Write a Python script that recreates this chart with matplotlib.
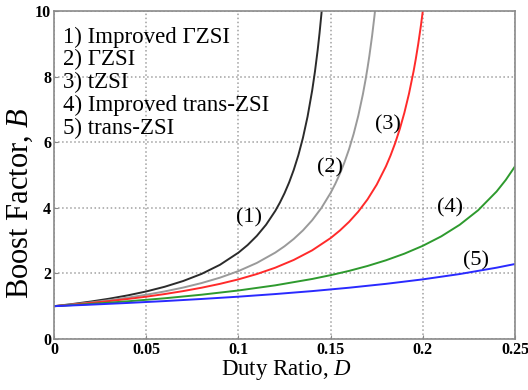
import matplotlib
matplotlib.use("Agg")
import matplotlib.pyplot as plt

serif = "Liberation Serif"
plt.rcParams["mathtext.fontset"] = "custom"
plt.rcParams["mathtext.it"] = serif + ":italic"
plt.rcParams["mathtext.rm"] = serif

# Boost factor B versus duty ratio D for five Z-source topologies
d_imp_gzsi = [0, 0.01, 0.02, 0.03, 0.04, 0.05, 0.06, 0.07, 0.08, 0.09, 0.10, 0.105, 0.11, 0.115,
              0.12, 0.1225, 0.125, 0.1275, 0.13, 0.1325, 0.135, 0.1375, 0.14, 0.1415, 0.143,
              0.144, 0.145, 0.146]
b_imp_gzsi = [1.000, 1.066, 1.142, 1.229, 1.330, 1.449, 1.592, 1.767, 1.984, 2.262, 2.632, 2.865,
              3.145, 3.484, 3.906, 4.158, 4.444, 4.773, 5.155, 5.602, 6.135, 6.780, 7.576, 8.150,
              8.818, 9.328, 9.901, 10.55]

d_gzsi = [0, 0.01, 0.02, 0.03, 0.04, 0.05, 0.06, 0.07, 0.08, 0.09, 0.10, 0.11, 0.12, 0.125,
          0.13, 0.135, 0.14, 0.145, 0.15, 0.1525, 0.155, 0.1575, 0.16, 0.1625, 0.165, 0.1675,
          0.169, 0.17, 0.171, 0.1725, 0.1738, 0.175]
b_gzsi = [1.000, 1.055, 1.115, 1.184, 1.261, 1.349, 1.450, 1.567, 1.705, 1.870, 2.070, 2.319,
          2.634, 2.827, 3.050, 3.311, 3.621, 3.994, 4.454, 4.726, 5.034, 5.384, 5.787, 6.255,
          6.805, 7.461, 7.920, 8.258, 8.626, 9.244, 9.857, 10.50]

d_tzsi = [0, 0.01, 0.02, 0.03, 0.04, 0.05, 0.06, 0.07, 0.08, 0.09, 0.10, 0.11, 0.12, 0.13,
          0.14, 0.15, 0.155, 0.16, 0.165, 0.17, 0.175, 0.18, 0.1825, 0.185, 0.1875, 0.19,
          0.1925, 0.195, 0.1962, 0.1975, 0.199, 0.2, 0.201]
b_tzsi = [1.000, 1.047, 1.099, 1.156, 1.220, 1.290, 1.370, 1.460, 1.563, 1.681, 1.818, 1.980,
          2.174, 2.410, 2.703, 3.077, 3.306, 3.571, 3.883, 4.255, 4.706, 5.263, 5.594, 5.970,
          6.400, 6.897, 7.477, 8.163, 8.540, 8.989, 9.569, 10.0, 10.47]

d_imp_trans = [0, 0.02, 0.04, 0.06, 0.08, 0.10, 0.12, 0.14, 0.15, 0.16, 0.17, 0.18, 0.19,
               0.20, 0.21, 0.22, 0.23, 0.24, 0.245, 0.25]
b_imp_trans = [1.000, 1.069, 1.149, 1.241, 1.350, 1.479, 1.636, 1.830, 1.946, 2.076, 2.226,
               2.399, 2.601, 2.841, 3.129, 3.482, 3.925, 4.496, 4.850, 5.263]

d_trans = [0, 0.02, 0.04, 0.06, 0.08, 0.10, 0.12, 0.14, 0.16, 0.18, 0.20, 0.22, 0.24, 0.25]
b_trans = [1.000, 1.047, 1.099, 1.156, 1.220, 1.290, 1.370, 1.460, 1.563, 1.681, 1.818,
           1.980, 2.174, 2.286]

legend_lines = ["1) Improved \u0393ZSI", "2) \u0393ZSI", "3) tZSI",
                "4) Improved trans-ZSI", "5) trans-ZSI"]
tags = ["(1)", "(2)", "(3)", "(4)", "(5)"]
tag_x = [0.1057, 0.1497, 0.181, 0.2147, 0.2288]
tag_y = [3.70, 5.21, 6.52, 3.99, 2.38]

x_ticks = [0, 0.05, 0.1, 0.15, 0.2, 0.25]
x_tick_labels = ["0", "0.05", "0.1", "0.15", "0.2", "0.25"]
y_ticks = [0, 2, 4, 6, 8, 10]

fig = plt.figure(figsize=(5.28, 3.9), dpi=100)
ax = fig.add_axes([0.1023, 0.1308, 0.8731, 0.841])

ax.plot(d_imp_gzsi, b_imp_gzsi, color="#2b2b2b", lw=1.4)
ax.plot(d_gzsi, b_gzsi, color="#9a9a9a", lw=1.4)
ax.plot(d_tzsi, b_tzsi, color="#ff2a2a", lw=1.4)
ax.plot(d_imp_trans, b_imp_trans, color="#2e9a2e", lw=1.4)
ax.plot(d_trans, b_trans, color="#2a2aff", lw=1.4)

ax.set_xlim(0, 0.25)
ax.set_ylim(0, 10)
ax.set_xticks(x_ticks)
ax.set_xticklabels(x_tick_labels)
ax.set_yticks(y_ticks)
ax.grid(True, linestyle=":", color="#a0a0a0", lw=1.1)
ax.tick_params(direction="in", length=3, color="#888888", pad=2)
for lab in ax.get_xticklabels() + ax.get_yticklabels():
    lab.set_family(serif)
    lab.set_fontweight("bold")
    lab.set_fontsize(11.5)
for s in ax.spines.values():
    s.set_color("#8a8a8a")
    s.set_linewidth(1.2)

ax.set_xlabel("Duty Ratio, $\\mathit{D}$", family=serif, fontsize=16.5, va="center")
ax.xaxis.set_label_coords(0.505, -0.0945)
ax.set_ylabel("Boost Factor, $\\mathit{B}$", family=serif, fontsize=22, va="center")
ax.yaxis.set_label_coords(-0.0738, 0.415)

for i, txt in enumerate(legend_lines):
    ax.text(0.0049, 9.21 - i * 0.695, txt, family=serif, fontsize=16.5, va="center", ha="left")

for t, x, y in zip(tags, tag_x, tag_y):
    ax.text(x, y, t, family=serif, fontsize=16, va="center", ha="center")

fig.savefig("out.png", dpi=100)
